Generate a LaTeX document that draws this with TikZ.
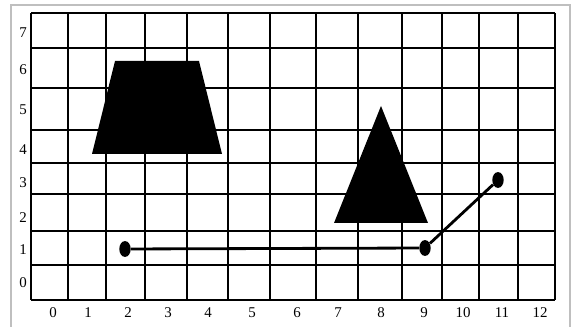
\documentclass[tikz,border=0pt]{standalone}
\usepackage{fontspec}
\setmainfont{Liberation Serif}
\usetikzlibrary{shapes.geometric}
\tikzset{gridline/.style={line width=1.1pt},
 tick/.style={font=\fontsize{8.5}{9}\selectfont,inner sep=0pt},
 dot/.style={ellipse,fill,inner sep=0pt,minimum width=6.5pt,minimum height=9pt},
 track/.style={line width=1.6pt}}
\begin{document}
\begin{tikzpicture}[x=0.02cm,y=-0.02cm]
\useasboundingbox (0,0) rectangle (575,327);
\draw[black!25,line width=0.9pt] (11,327) |- (570,5) -- (570,327);
% grid, lines as scanned
\foreach \gx in {31,68,106,145,187,228,270,316,358,402,442,479,518,555}
 \draw[gridline] (\gx,13) -- (\gx,300);
\foreach \gy in {13,48,88,130,163,194,231,265,300}
 \draw[gridline] (31,\gy) -- (555,\gy);
\foreach \lx [count=\i from 0] in {53,88,128,168,208,252,297,338,381,424,463,502,540}
 \node[tick] (col\i) at (\lx,313) {\i};
\foreach \ly [count=\i from 0] in {283,250,218,183,150,110,70,33}
 \node[tick] (row\i) at (23,\ly) {\i};
\fill (115,61) -- (199,61) -- (222,154) -- (92,154) -- cycle;
\fill (381,106) -- (428,223) -- (334,223) -- cycle;
\node[dot] (a) at (125,249) {};
\node[dot] (b) at (425,248) {};
\node[dot] (c) at (498,180) {};
\draw[track] (a) -- (b) -- (c);
\end{tikzpicture}
\end{document}
